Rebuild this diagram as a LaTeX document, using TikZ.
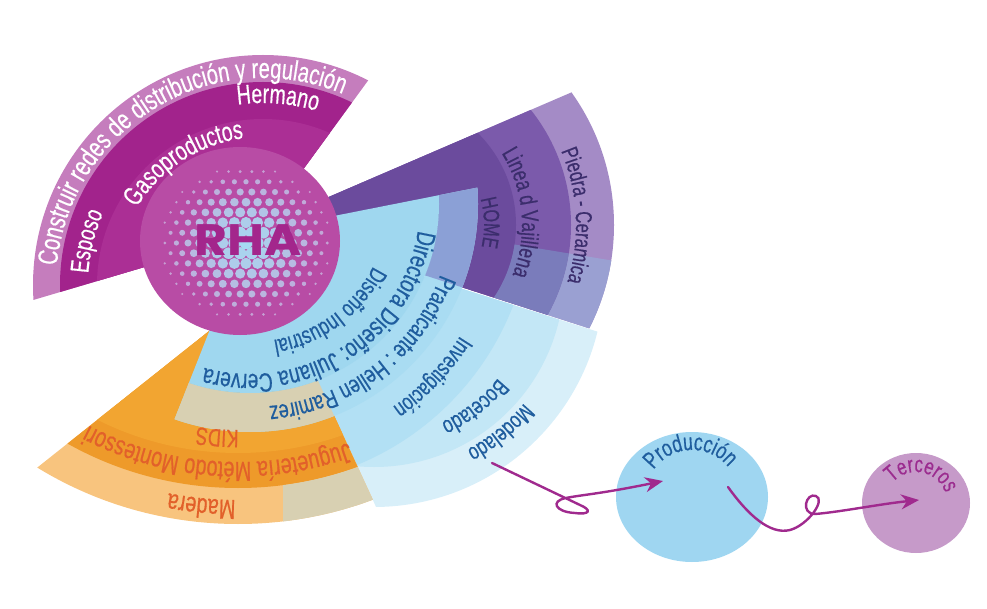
\documentclass[tikz,border=0pt]{standalone}
\usepackage{fontspec}
\newfontfamily\labfont[FakeStretch=0.72, FakeBold=0.5]{Liberation Sans}
\newfontfamily\rhafont{Poppins}
\usetikzlibrary{arrows.meta,decorations.text,shapes.geometric}

\definecolor{magouter}{HTML}{C57DBD}
\definecolor{magmid}{HTML}{A2238C}
\definecolor{maginner}{HTML}{AB2F95}
\definecolor{purouter}{HTML}{A48BC6}
\definecolor{purmid}{HTML}{7B5AAB}
\definecolor{purinner}{HTML}{6B4B9D}
\definecolor{purouterb}{HTML}{9AA0D2}
\definecolor{purmidb}{HTML}{7A7CBB}
\definecolor{bluein}{HTML}{9FD7EF}
\definecolor{bluepract}{HTML}{A9DCF2}
\definecolor{blueinv}{HTML}{B2E0F4}
\definecolor{bluebocet}{HTML}{C3E7F6}
\definecolor{bluemodel}{HTML}{D8EFF9}
\definecolor{orinner}{HTML}{F2A531}
\definecolor{ormid}{HTML}{EE9A2A}
\definecolor{orouter}{HTML}{F8C47E}
\definecolor{beige}{HTML}{D8D0B2}
\definecolor{lilacblue}{HTML}{8BA0D6}
\definecolor{rhafill}{HTML}{B84CA5}
\definecolor{rhatext}{HTML}{A3268C}
\definecolor{dotblue}{HTML}{A6DAF2}
\definecolor{dotpink}{HTML}{CF8FCB}
\definecolor{txtblue}{HTML}{1F5D9E}
\definecolor{txtpurple}{HTML}{3B2D6C}
\definecolor{txtorange}{HTML}{E2602A}
\definecolor{txtmag}{HTML}{9B2C8F}
\definecolor{arrowmag}{HTML}{A02A8E}
\definecolor{prodfill}{HTML}{9FD6F1}
\definecolor{tercfill}{HTML}{C69AC9}

\newcommand\lab[1]{\labfont\fontsize{#1}{#1}\selectfont}

\tikzset{
  arc label/.style={decorate,
    decoration={text along path, text align=center, text color=#1}},
  flow/.style={draw=arrowmag, line width=2.4pt, line cap=round,
    -{Stealth[length=18pt, width=15pt]}},
  bubble/.style={ellipse, inner sep=0pt},
}

\begin{document}
\begin{tikzpicture}[x=1pt, y=-1pt]
  \useasboundingbox (0,0) rectangle (987,609);

  % purple sector
  \begin{scope}
    \clip (266,224) -- (1178,-169) -- (1232,536) -- cycle;
    \fill[purouter] (386,225) circle[radius=228];
    \fill[purmid] (386,225) circle[radius=185];
    \fill[purinner] (386,225) circle[radius=130];
    % lower part lies under the blue
    \clip (250,201) -- (700,275) -- (700,609) -- (250,609) -- cycle;
    \fill[purouterb, even odd rule] (386,225) circle[radius=228] (386,225) circle[radius=185];
    \fill[purmidb, even odd rule] (386,225) circle[radius=185] (386,225) circle[radius=130];
  \end{scope}

  % light blue, outer rings
  \begin{scope}
    \clip (244,220) -- (700,364) -- (700,609) -- (423,609) -- cycle;
    \fill[bluemodel] (374,277) circle[radius=230];
    \fill[bluebocet] (374,277) circle[radius=190];
    \fill[blueinv] (250,204) circle[radius=282];
  \end{scope}

  % orange sector
  \begin{scope}
    \clip (272,281) -- (-430,839) -- (575,938) -- cycle;
    \fill[orouter] (238,139) circle[radius=385];
    \fill[ormid] (238,139) circle[radius=349];
    \fill[orinner] (238,139) circle[radius=314];
    \clip (283,0) rectangle (400,609);
    \fill[beige, even odd rule] (238,139) circle[radius=385] (238,139) circle[radius=349];
  \end{scope}

  % light blue, inner rings
  \begin{scope}
    \clip (248,233) -- (1016,81) -- (1016,953) -- (-36,953) -- cycle;
    \fill[bluepract, even odd rule] (250,204) circle[radius=228] (250,204) circle[radius=189];
    \begin{scope}
      \clip (272,281) -- (-430,839) -- (575,938) -- cycle;
      \fill[beige, even odd rule] (250,204) circle[radius=228] (250,204) circle[radius=189];
    \end{scope}
    \begin{scope}
      \clip (266,224) -- (1178,-169) -- (1232,536) -- cycle;
      \clip (0,0) -- (244,220) -- (700,364) -- (700,0) -- cycle;
      \fill[lilacblue, even odd rule] (250,204) circle[radius=228] (250,204) circle[radius=189];
    \end{scope}
    \fill[bluein] (250,204) circle[radius=189];
  \end{scope}

  % magenta sector
  \begin{scope}
    \clip (256,234) -- (-392,426) -- (-392,-300) -- (589,-222) -- cycle;
    \fill[magouter] (263,285) circle[radius=230];
    \fill[magmid] (263,285) circle[radius=203];
    \fill[maginner] (263,285) circle[radius=166];
  \end{scope}

  % RHA disc with halftone dots
  \fill[rhafill] (240,241) ellipse[x radius=100, y radius=94];
  \foreach \i in {-8,...,8}
    \foreach \j in {-8,...,8}{
      \pgfmathsetmacro\hx{11.6*\i+5.8*mod(abs(\j),2)}
      \pgfmathsetmacro\hy{10.2*\j}
      \pgfmathsetmacro\hd{sqrt((\hx/90)^2+(\hy/80)^2)}
      \ifdim\hd pt<0.97pt
        \pgfmathsetmacro\hr{5.6*(1-\hd^1.6)+0.7}
        \pgfmathtruncatemacro\mix{100*(1-\hd)^0.6}
        \fill[dotblue!\mix!dotpink] (246+\hx,243+\hy) circle[radius=\hr];
      \fi
    }
  \node (rha) at (248,240) [text=rhatext, xscale=1.15,
    font=\rhafont\bfseries\fontsize{44}{44}\selectfont] {RHA};

  % magenta labels
  \path[shift={(263,285)}, arc label=white, decoration={text={|\lab{28}|Construir redes de distribución y regulación}}]
    (150:207) arc[start angle=150, end angle=328, radius=207];
  \path[shift={(263,285)}, arc label=white, decoration={text={|\lab{27}|Hermano}}]
    (185.6:182) arc[start angle=185.6, end angle=363.6, radius=182];
  \path[shift={(263,285)}, arc label=white, decoration={text={|\lab{26}|Esposo}}]
    (105:175) arc[start angle=105, end angle=283, radius=175];
  \path[shift={(263,285)}, arc label=white, decoration={text={|\lab{27}|Gasoproductos}}]
    (148:148) arc[start angle=148, end angle=326, radius=148];

  % purple labels
  \path[shift={(386,225)}, arc label=txtpurple, decoration={text={|\lab{23}|Piedra - Ceramica}}]
    (-91.8:190) arc[start angle=-91.8, end angle=86.2, radius=190];
  \path[shift={(386,225)}, arc label=txtpurple, decoration={text={|\lab{24}|Linea d Vajillena}}]
    (-94.2:136) arc[start angle=-94.2, end angle=83.8, radius=136];
  \path[shift={(386,225)}, arc label=txtpurple, decoration={text={|\lab{22.5}|HOME}}]
    (-90.3:98) arc[start angle=-90.3, end angle=87.7, radius=98];

  % blue labels
  \path[shift={(250,204)}, arc label=txtblue, decoration={text={|\lab{24}|Diseño Industrial}}]
    (-35.5:138) arc[start angle=-35.5, end angle=142.5, radius=138];
  \path[shift={(250,204)}, arc label=txtblue, decoration={text={|\lab{26.5}|Directora Diseño: Juliana Cervera}}]
    (-31.8:170) arc[start angle=-31.8, end angle=146.2, radius=170];
  \path[shift={(250,204)}, arc label=txtblue, decoration={text={|\lab{25}|Practicante : Hellen Ramirez}}]
    (-36.5:203) arc[start angle=-36.5, end angle=141.5, radius=203];
  \path[shift={(250,204)}, arc label=txtblue, decoration={text={|\lab{23.5}|Investigación}}]
    (-45.5:248) arc[start angle=-45.5, end angle=132.5, radius=248];
  \path[shift={(374,277)}, arc label=txtblue, decoration={text={|\lab{24}|Bocetado}}]
    (-36.8:160) arc[start angle=-36.8, end angle=141.2, radius=160];
  \path[shift={(374,277)}, arc label=txtblue, decoration={text={|\lab{23.5}|Modelado}}]
    (-38.1:196) arc[start angle=-38.1, end angle=139.9, radius=196];

  % orange labels
  \path[shift={(238,139)}, arc label=txtorange, decoration={text={|\lab{25}|KIDS}}]
    (5:291) arc[start angle=5, end angle=183, radius=291];
  \path[shift={(238,139)}, arc label=txtorange, decoration={text={|\lab{27.5}|Juguetería Método Montessori}}]
    (4.8:323) arc[start angle=4.8, end angle=182.8, radius=323];
  \path[shift={(238,139)}, arc label=txtorange, decoration={text={|\lab{27.5}|Madera}}]
    (6.7:361) arc[start angle=6.7, end angle=184.7, radius=361];

  % production chain
  \node (prod) [bubble, fill=prodfill, minimum width=152pt, minimum height=130pt] at (692,497) {};
  \node (terc) [bubble, fill=tercfill, minimum width=108pt, minimum height=100pt] at (916,503) {};
  \path[shift={(692,497)}, arc label=txtblue, decoration={text={|\lab{24}|Producción}}]
    (-181:47) arc[start angle=-181, end angle=-3, radius=47];
  \path[shift={(916,503)}, arc label=txtmag, decoration={text={|\lab{23}|Terceros}}]
    (-168:31) arc[start angle=-168, end angle=10, radius=31];

  \coordinate (model out) at (492,463);
  \coordinate (prod in) at (663,481);
  \coordinate (prod out) at (728,487);
  \coordinate (terc in) at (919,500);
  \draw[flow] (model out) -- (580,505) .. controls (592,510) and (590,515) .. (575,513)
    .. controls (555,512) and (550,501) .. (566,498) .. controls (580,495) and (600,494) .. (prod in);
  \draw[flow] (prod out) .. controls (748,515) and (770,535) .. (790,530)
    .. controls (808,525) and (826,500) .. (816,496) .. controls (806,492) and (800,514) .. (815,514)
    .. controls (840,512) and (880,504) .. (terc in);
\end{tikzpicture}
\end{document}
